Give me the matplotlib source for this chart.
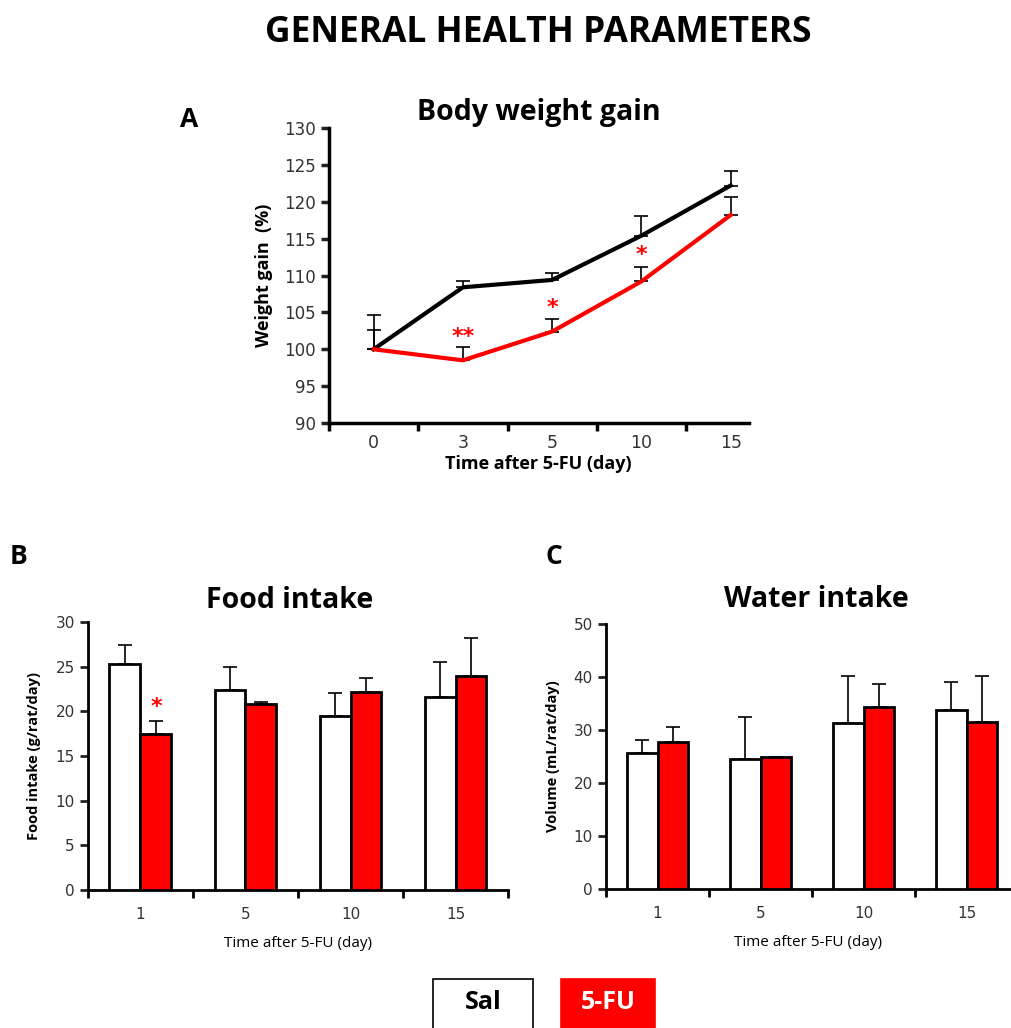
import numpy as np
import matplotlib
matplotlib.use('Agg')
import matplotlib.pyplot as plt
from matplotlib.patches import Rectangle

# Panel A - body weight gain (%)
days_a = ['0', '3', '5', '10', '15']
sal_weight = [100.0, 108.4, 109.4, 115.4, 122.2]
sal_weight_err = [4.6, 0.8, 1.0, 2.6, 2.0]
fu_weight = [100.0, 98.5, 102.4, 109.2, 118.2]
fu_weight_err = [2.6, 1.8, 1.7, 2.0, 2.5]
weight_stars = ['', '**', '*', '*', '']
weight_star_y = [0, 101.6, 105.6, 112.8, 0]

# Panel B - food intake (g/rat/day)
days_bc = ['1', '5', '10', '15']
sal_food = [25.3, 22.4, 19.5, 21.6]
sal_food_err = [2.1, 2.6, 2.6, 3.9]
fu_food = [17.5, 20.8, 22.2, 24.0]
fu_food_err = [1.4, 0.3, 1.5, 4.2]
food_stars = ['*', '', '', '']

# Panel C - water intake (mL/rat/day)
sal_water = [25.6, 24.5, 31.3, 33.7]
sal_water_err = [2.5, 8.0, 8.8, 5.3]
fu_water = [27.8, 24.8, 34.4, 31.4]
fu_water_err = [2.8, 0.0, 4.3, 8.7]

RED = '#ff0000'
BOLD = 'Open Sans'
TICK = 'DejaVu Sans'

fig = plt.figure(figsize=(10.11, 10.28), dpi=100)

fig.text(0.532, 0.968, 'GENERAL HEALTH PARAMETERS', ha='center', va='center',
         family=BOLD, weight='bold', fontsize=25.5)


def style_axis(ax, lw):
    for s in ['top', 'right']:
        ax.spines[s].set_visible(False)
    for s in ['left', 'bottom']:
        ax.spines[s].set_linewidth(lw)
    ax.tick_params(axis='y', direction='out', length=6, width=lw, labelsize=11,
                   colors='#222222', labelcolor='#333333')
    for lab in ax.get_yticklabels():
        lab.set_family(TICK)


# ---- A
axA = fig.add_axes([0.3254, 0.5885, 0.415, 0.287])
x = np.arange(len(days_a))
axA.plot(x, sal_weight, color='black', lw=3, zorder=3)
axA.plot(x, fu_weight, color=RED, lw=3, zorder=3)
axA.errorbar(x, sal_weight, yerr=[np.zeros(5), sal_weight_err], fmt='none',
             ecolor='black', elinewidth=1.2, capsize=5, capthick=1.2, zorder=2)
axA.errorbar(x, fu_weight, yerr=[np.zeros(5), fu_weight_err], fmt='none',
             ecolor='black', elinewidth=1.2, capsize=5, capthick=1.2, zorder=2)
for xi, s, yv in zip(x, weight_stars, weight_star_y):
    if s:
        axA.text(xi, yv, s, ha='center', va='center', color=RED,
                 family=TICK, weight='bold', fontsize=16)
axA.set_xlim(-0.5, 4.2)
axA.set_ylim(90, 130)
axA.set_yticks(np.arange(90, 131, 5))
axA.set_xticks(x)
axA.set_xticklabels(days_a, family=TICK, fontsize=12.5, color='#333333')
axA.set_xticks(np.arange(-0.5, 4.0, 1), minor=True)
axA.tick_params(axis='x', which='major', length=0, pad=8)
axA.tick_params(axis='x', which='minor', direction='out', length=6, width=2.5)
style_axis(axA, 2.5)
axA.tick_params(axis='y', labelsize=12)
axA.set_ylabel('Weight gain  (%)', family=BOLD, weight='bold', fontsize=13, labelpad=8)
axA.set_xlabel('Time after 5-FU (day)', family=BOLD, weight='bold', fontsize=13, labelpad=2)
axA.set_title('Body weight gain', family=BOLD, weight='bold', fontsize=20.5, pad=6)
fig.text(0.178, 0.884, 'A', family=BOLD, weight='bold', fontsize=19, ha='left', va='center')


def bar_panel(ax, sal, sal_err, fu, fu_err, ymax, ystep, xmax):
    xb = np.arange(len(days_bc))
    w = 0.295
    ax.bar(xb - w / 2, sal, w, color='white', edgecolor='black', lw=2, zorder=3)
    ax.bar(xb + w / 2, fu, w, color=RED, edgecolor='black', lw=2, zorder=3)
    ax.errorbar(xb - w / 2, sal, yerr=[np.zeros(len(sal)), sal_err], fmt='none',
                ecolor='black', elinewidth=1.2, capsize=5, capthick=1.2, zorder=2)
    ax.errorbar(xb + w / 2, fu, yerr=[np.zeros(len(fu)), fu_err], fmt='none',
                ecolor='black', elinewidth=1.2, capsize=5, capthick=1.2, zorder=2)
    ax.set_xlim(-0.5, xmax)
    ax.set_ylim(0, ymax)
    ax.set_yticks(np.arange(0, ymax + 1, ystep))
    ax.set_xticks(xb)
    ax.set_xticklabels(days_bc, family=TICK, fontsize=11, color='#333333')
    ax.set_xticks(np.arange(-0.5, xmax + 0.01, 1), minor=True)
    ax.tick_params(axis='x', which='major', length=0, pad=12)
    ax.tick_params(axis='x', which='minor', direction='out', length=6, width=2)
    style_axis(ax, 2)
    ax.set_xlabel('Time after 5-FU (day)', family=BOLD, fontsize=11, labelpad=10)
    return xb, w


# ---- B
axB = fig.add_axes([0.087, 0.1342, 0.4155, 0.2607])
xb, w = bar_panel(axB, sal_food, sal_food_err, fu_food, fu_food_err, 30, 5, 3.5)
for xi, s, v, e in zip(xb, food_stars, fu_food, fu_food_err):
    if s:
        axB.text(xi + w / 2, v + e + 1.6, s, ha='center', va='center', color=RED,
                 family=TICK, weight='bold', fontsize=16)
axB.set_ylabel('Food intake (g/rat/day)', family=BOLD, weight='bold', fontsize=10.5, labelpad=10)
axB.set_title('Food intake', family=BOLD, weight='bold', fontsize=20.5, pad=10, x=0.48)
fig.text(0.010, 0.459, 'B', family=BOLD, weight='bold', fontsize=19, ha='left', va='center')

# ---- C
axC = fig.add_axes([0.5994, 0.1352, 0.4006, 0.258])
bar_panel(axC, sal_water, sal_water_err, fu_water, fu_water_err, 50, 10, 3.43)
axC.set_ylabel('Volume (mL/rat/day)', family=BOLD, weight='bold', fontsize=10.5, labelpad=10)
axC.set_title('Water intake', family=BOLD, weight='bold', fontsize=20.5, pad=12, x=0.52)
fig.text(0.540, 0.459, 'C', family=BOLD, weight='bold', fontsize=19, ha='left', va='center')

# ---- legend boxes
fig.patches.append(Rectangle((0.428, -0.01), 0.099, 0.058, transform=fig.transFigure,
                             facecolor='white', edgecolor='black', lw=1.2))
fig.patches.append(Rectangle((0.555, -0.01), 0.093, 0.058, transform=fig.transFigure,
                             facecolor=RED, edgecolor=RED, lw=1.2))
fig.text(0.4775, 0.025, 'Sal', ha='center', va='center', family=BOLD, weight='bold', fontsize=18)
fig.text(0.6015, 0.025, '5-FU', ha='center', va='center', family=BOLD, weight='bold',
         fontsize=18, color='white')

fig.savefig('out.png', dpi=100)
